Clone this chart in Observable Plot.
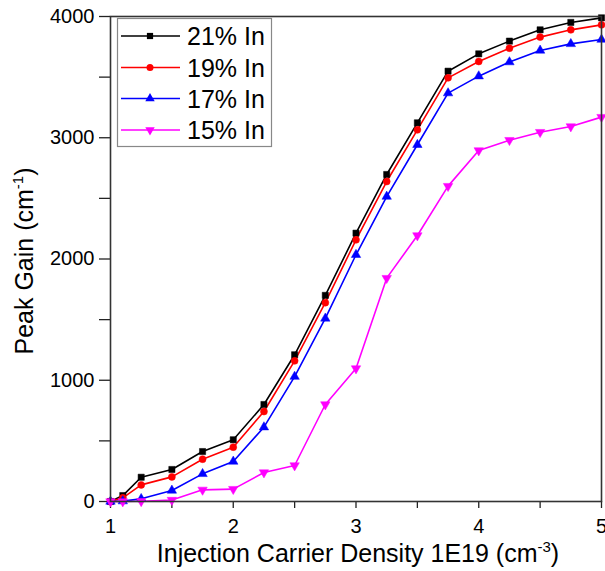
<!DOCTYPE html>
<html>
<head>
<meta charset="utf-8">
<script src="https://cdn.jsdelivr.net/npm/d3@7"></script>
<script src="https://cdn.jsdelivr.net/npm/@observablehq/plot@0.6"></script>
<style>
  html, body { margin: 0; padding: 0; background: #fff; }
  #chart { width: 605px; height: 571px; }
</style>
</head>
<body>
<div id="chart"></div>
<script>
// ---- data ----
const density = [1, 1.1, 1.25, 1.5, 1.75, 2, 2.25, 2.5, 2.75, 3, 3.25, 3.5, 3.75, 4, 4.25, 4.5, 4.75, 5];
const in21 = [0, 49, 200, 264, 412, 509, 800, 1210, 1700, 2213, 2697, 3123, 3549, 3692, 3797, 3890, 3951, 3989];
const in19 = [0, 30, 137, 203, 349, 448, 742, 1160, 1640, 2158, 2639, 3065, 3494, 3629, 3739, 3830, 3890, 3931];
const in17 = [0, 3, 22, 91, 228, 330, 613, 1030, 1510, 2035, 2515, 2942, 3368, 3508, 3624, 3720, 3774, 3810];
const in15 = [0, 0, 2, 12, 96, 102, 239, 297, 800, 1097, 1842, 2194, 2601, 2895, 2980, 3046, 3093, 3170];
const seriesNames = ["21% In", "19% In", "17% In", "15% In"];
const seriesValues = [in21, in19, in17, in15];
const seriesColors = ["#000000", "#ff0000", "#0000ff", "#ff00ff"];
const seriesSymbols = ["square", "circle", "triangle", "triangle"];
const seriesRotate = [0, 0, 0, 180];
const xTicks = [1, 1.5, 2, 2.5, 3, 3.5, 4, 4.5, 5];
const yTicks = [0, 500, 1000, 1500, 2000, 2500, 3000, 3500, 4000];
const xLabel = ["Injection Carrier Density 1E19 (cm", "-3", ")"];
const yLabel = ["Peak Gain (cm", "-1", ")"];

// ---- table ----
const rows = [];
seriesNames.forEach((name, s) => {
  density.forEach((x, i) => rows.push({x, y: seriesValues[s][i], name, rot: seriesRotate[s]}));
});

const W = 605, H = 571;
const plot = Plot.plot({
  width: W, height: H,
  marginLeft: 110, marginRight: 4, marginTop: 16, marginBottom: 70,
  style: {fontFamily: "'Liberation Sans', Arial, sans-serif", fontSize: "20px", color: "#000", background: "#fff", overflow: "visible"},
  x: {domain: [1, 5]},
  y: {domain: [0, 4000]},
  color: {domain: seriesNames, range: seriesColors},
  symbol: {domain: seriesNames, range: seriesSymbols},
  marks: [
    Plot.axisX({ticks: xTicks, tickFormat: d => Number.isInteger(d) ? String(d) : "", tickSize: 7, tickPadding: 10, label: null, stroke: "#222", strokeWidth: 1.3}),
    Plot.axisY({ticks: yTicks, tickFormat: d => d % 1000 === 0 ? String(d) : "", tickSize: 11, tickPadding: 5, label: null, stroke: "#222", strokeWidth: 1.3}),
    Plot.line(rows, {x: "x", y: "y", z: "name", stroke: "name", strokeWidth: 1.6}),
    Plot.dot(rows, {x: "x", y: "y", fill: "name", stroke: "name", strokeWidth: 0.5, symbol: "name", rotate: "rot", r: 3.5}),
    Plot.frame({stroke: "#333", strokeWidth: 1.6})
  ]
});
document.getElementById("chart").appendChild(plot);

const svg = d3.select(plot);
const font = "'Liberation Sans', Arial, sans-serif";

function addLabel(parts, attrs) {
  const t = svg.append("text").attr("font-family", font).attr("font-size", 25).attr("fill", "#000");
  Object.entries(attrs).forEach(([k, v]) => t.attr(k, v));
  t.append("tspan").text(parts[0]);
  t.append("tspan").attr("font-size", 15).attr("dy", -10).text(parts[1]);
  t.append("tspan").attr("dy", 10).text(parts[2]);
  return t;
}
addLabel(xLabel, {x: 358, y: 562, "text-anchor": "middle"});
addLabel(yLabel, {"text-anchor": "middle", transform: "translate(33,261) rotate(-90)"});

// ---- legend ----
const lg = svg.append("g");
lg.append("rect").attr("x", 117.5).attr("y", 18.5).attr("width", 154).attr("height", 128)
  .attr("fill", "#fff").attr("stroke", "#888").attr("stroke-width", 1.2);
const rowY = [36, 67.5, 98.5, 130];
const symMap = {square: d3.symbolSquare, circle: d3.symbolCircle, triangle: d3.symbolTriangle};
seriesNames.forEach((name, i) => {
  const y = rowY[i];
  lg.append("line").attr("x1", 121).attr("x2", 180).attr("y1", y).attr("y2", y)
    .attr("stroke", seriesColors[i]).attr("stroke-width", 1.6);
  lg.append("path").attr("d", d3.symbol(symMap[seriesSymbols[i]], Math.PI * 3.5 * 3.5)())
    .attr("transform", `translate(150,${y}) rotate(${seriesRotate[i]})`)
    .attr("fill", seriesColors[i]);
  lg.append("text").attr("x", 187).attr("y", y).attr("dy", "0.36em").attr("text-anchor", "start")
    .attr("font-family", font).attr("font-size", 25).attr("fill", "#000").text(name);
});
</script>
</body>
</html>
